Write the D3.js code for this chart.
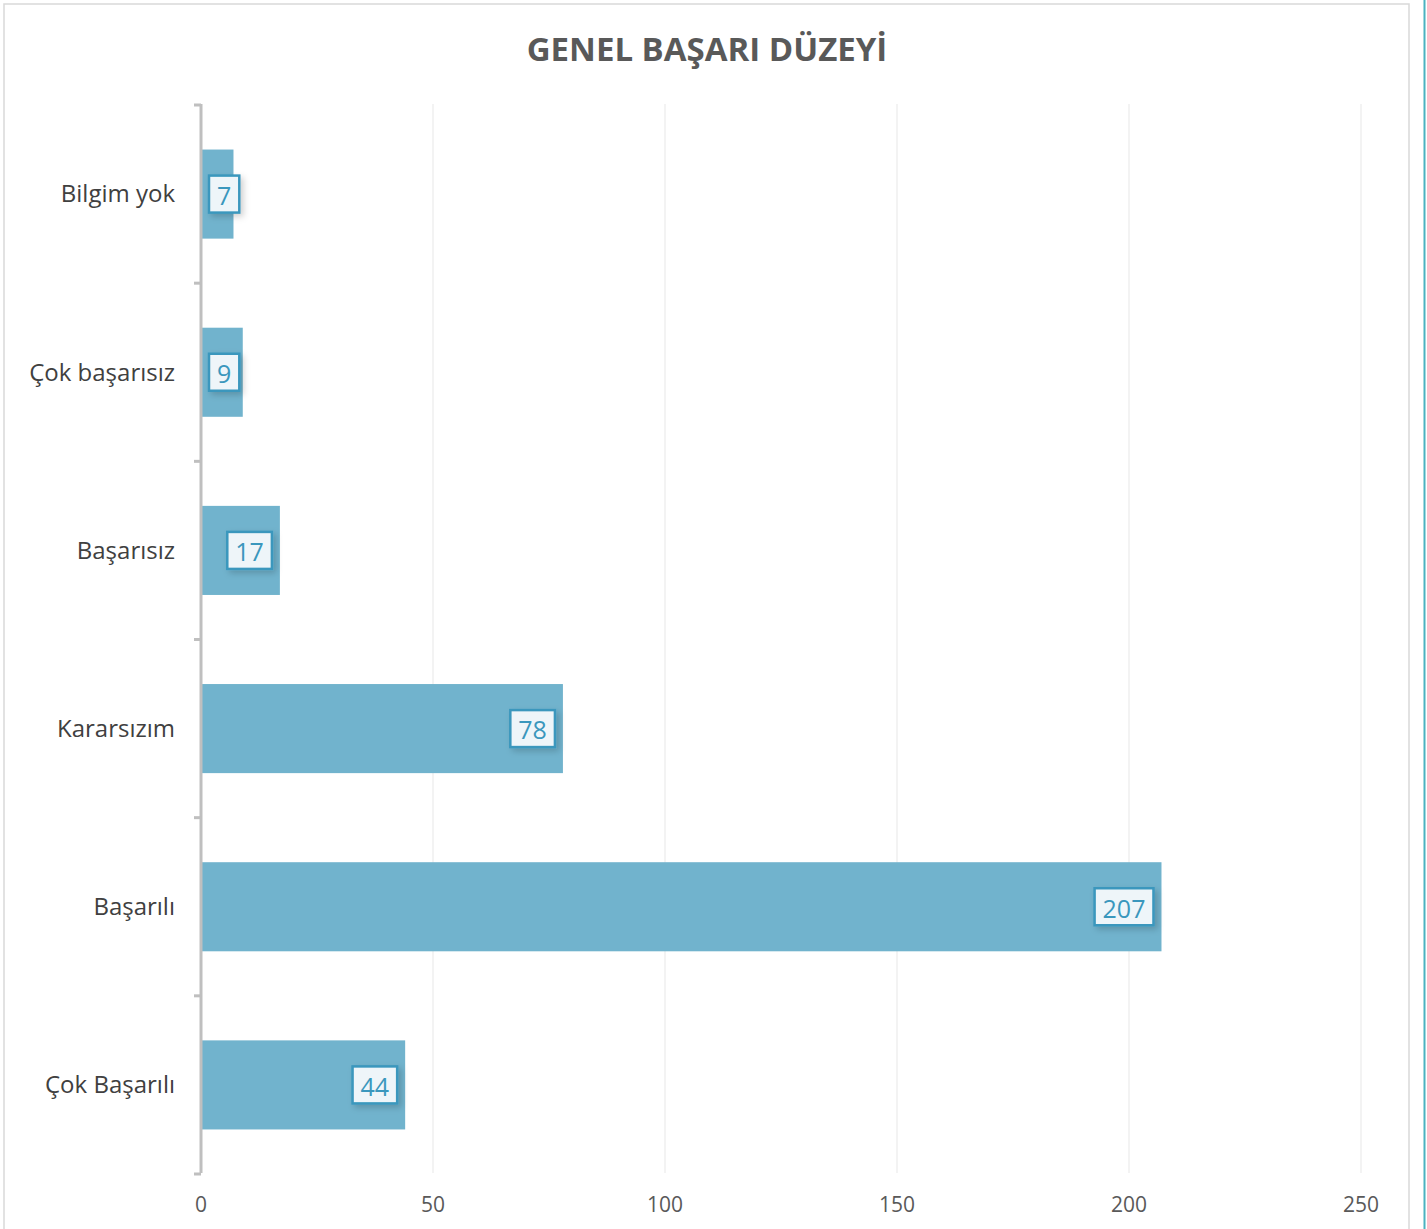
<!DOCTYPE html>
<html>
<head>
<meta charset="utf-8">
<script src="https://cdn.jsdelivr.net/npm/d3@7"></script>
<style>
  body { margin: 0; background: #fff; font-family: "Open Sans", sans-serif; }
  svg { display: block; }
</style>
</head>
<body>
<svg id="chart" width="1427" height="1229"></svg>
<script>
// data, top to bottom as drawn
const categories = ['Bilgim yok', 'Çok başarısız', 'Başarısız', 'Kararsızım', 'Başarılı', 'Çok Başarılı'];
const counts = [7, 9, 17, 78, 207, 44];
const xTicks = [0, 50, 100, 150, 200, 250];

const svg = d3.select('#chart');

// drop shadow for the value boxes
const defs = svg.append('defs');
const f = defs.append('filter').attr('id', 'shadow')
  .attr('x', '-30%').attr('y', '-30%').attr('width', '170%').attr('height', '170%');
f.append('feDropShadow').attr('dx', 3).attr('dy', 3).attr('stdDeviation', 3)
  .attr('flood-color', '#000').attr('flood-opacity', 0.18);

// outer chart border
svg.append('rect')
  .attr('x', 4).attr('y', 4).attr('width', 1405).attr('height', 1240)
  .attr('fill', '#fff').attr('stroke', '#d9d9d9').attr('stroke-width', 1.5);
svg.append('line')
  .attr('x1', 1424.5).attr('x2', 1424.5).attr('y1', 0).attr('y2', 1229)
  .attr('stroke', '#4bb2c0').attr('stroke-width', 2);

svg.append('text')
  .attr('x', 707).attr('y', 61)
  .attr('text-anchor', 'middle')
  .attr('font-size', 33).attr('font-weight', 'bold')
  .attr('fill', '#595959')
  .text('GENEL BAŞARI DÜZEYİ');

const x = d3.scaleLinear().domain([0, 250]).range([201, 1361]);
const y = d3.scaleBand().domain(categories).range([105, 1174]).paddingInner(0.5).paddingOuter(0.25);

// gridlines
svg.append('g').selectAll('line')
  .data(xTicks.slice(1))
  .join('line')
  .attr('x1', d => x(d)).attr('x2', d => x(d))
  .attr('y1', 104).attr('y2', 1173)
  .attr('stroke', '#efefef').attr('stroke-width', 1.5);

// x tick labels
svg.append('g').selectAll('text')
  .data(xTicks)
  .join('text')
  .attr('x', d => x(d)).attr('y', 1212)
  .attr('text-anchor', 'middle')
  .attr('font-size', 21).attr('fill', '#595959')
  .text(d => d);

// bars
svg.append('g').selectAll('rect')
  .data(counts)
  .join('rect')
  .attr('x', x(0))
  .attr('y', (d, i) => y(categories[i]))
  .attr('width', d => x(d) - x(0))
  .attr('height', y.bandwidth())
  .attr('fill', '#71b3cd');

// y axis line + ticks at band boundaries
const step = y.step();
const axis = svg.append('g').attr('stroke', '#bfbfbf').attr('stroke-width', 3).attr('fill', 'none');
axis.append('line').attr('x1', 201).attr('x2', 201).attr('y1', 104).attr('y2', 1173);
axis.selectAll('line.tk')
  .data(d3.range(categories.length + 1))
  .join('line').attr('class', 'tk')
  .attr('x1', 194).attr('x2', 201)
  .attr('y1', i => 105 + i * step).attr('y2', i => 105 + i * step);

// category labels
svg.append('g').selectAll('text')
  .data(categories)
  .join('text')
  .attr('x', 175)
  .attr('y', d => y(d) + y.bandwidth() / 2)
  .attr('dy', '0.35em')
  .attr('text-anchor', 'end')
  .attr('font-size', 24).attr('fill', '#404040')
  .text(d => d);

// value labels in boxes
const lab = svg.append('g').selectAll('g')
  .data(counts)
  .join('g');

lab.each(function (d, i) {
  const g = d3.select(this);
  const t = g.append('text')
    .attr('font-size', 25).attr('fill', '#3a97bd')
    .attr('text-anchor', 'middle')
    .attr('dy', '0.35em')
    .text(d);
  const w = t.node().getBBox().width + 16;
  const h = 37;
  let right = x(d) - 8;
  if (right - w < x(0) + 8) right = x(0) + 8 + w;
  const cx = right - w / 2;
  const cy = y(categories[i]) + y.bandwidth() / 2;
  g.insert('rect', 'text')
    .attr('x', right - w).attr('y', cy - h / 2)
    .attr('width', w).attr('height', h)
    .attr('fill', '#eef5f9')
    .attr('stroke', '#3a97bd').attr('stroke-width', 2.5)
    .attr('filter', 'url(#shadow)');
  t.attr('x', cx).attr('y', cy + 2);
});
</script>
</body>
</html>
